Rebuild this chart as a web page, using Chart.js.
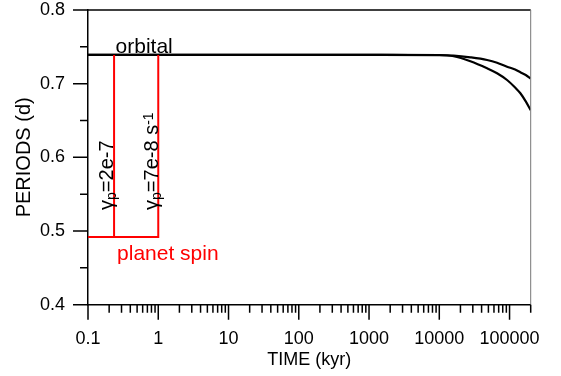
<!DOCTYPE html>
<html>
<head>
<meta charset="utf-8">
<script src="https://cdn.jsdelivr.net/npm/chart.js@4.4.1/dist/chart.umd.min.js"></script>
<style>
  html, body { margin: 0; padding: 0; background: #fff; }
</style>
</head>
<body>
<canvas id="periodChart" width="561" height="376"></canvas>
<script>
// orbital period of the two runs (days) vs time (kyr)
const timeKyr = [0.1, 1000, 10000, 16000, 27700, 47900, 66400, 92100, 120000, 142600, 170000, 200000];
const orbitalPeriodA = [0.739, 0.739, 0.7389, 0.7382, 0.7358, 0.7322, 0.7285, 0.7231, 0.7192, 0.7155, 0.7118, 0.707];
const orbitalPeriodB = [0.739, 0.739, 0.7386, 0.7372, 0.7305, 0.7209, 0.7141, 0.705, 0.6948, 0.687, 0.676, 0.664];

// planet spin: locks onto the orbit at a time that depends on gamma_p
const spinTimeA = [0.1, 0.235, 0.235];
const spinTimeB = [0.1, 1, 1];
const spinPeriod = [0.492, 0.492, 0.739];

const xTickValues = [0.1, 1, 10, 100, 1000, 10000, 100000];
const yTickValues = [0.4, 0.5, 0.6, 0.7, 0.8];

const FONT = "Arial, 'Liberation Sans', sans-serif";

function toPoints(xs, ys) {
  return xs.map((x, i) => ({ x: x, y: ys[i] }));
}

function isMajorX(v) {
  return xTickValues.some(t => Math.abs(t - v) / t < 1e-6);
}

function isMajorY(v) {
  return yTickValues.some(t => Math.abs(t - v) < 1e-6);
}

const frameAndTicks = {
  id: "frameAndTicks",
  afterDraw(chart) {
    const { ctx, chartArea, scales } = chart;
    const { left, right, top, bottom } = chartArea;
    ctx.save();
    ctx.strokeStyle = "#000";
    ctx.lineWidth = 1.5;
    ctx.beginPath();
    ctx.moveTo(left, top);
    ctx.lineTo(right, top);
    ctx.stroke();

    ctx.strokeStyle = "#777";
    ctx.lineWidth = 1;
    ctx.beginPath();
    ctx.moveTo(right, top);
    ctx.lineTo(right, bottom);
    ctx.stroke();

    ctx.strokeStyle = "#000";
    ctx.lineWidth = 1.5;
    ctx.beginPath();
    scales.x.ticks.forEach(t => {
      const px = scales.x.getPixelForValue(t.value);
      const len = isMajorX(t.value) ? 15 : 8;
      ctx.moveTo(px, bottom);
      ctx.lineTo(px, bottom + len);
    });
    scales.y.ticks.forEach(t => {
      const py = scales.y.getPixelForValue(t.value);
      const len = isMajorY(t.value) ? 15 : 8;
      ctx.moveTo(left, py);
      ctx.lineTo(left - len, py);
    });
    ctx.stroke();
    ctx.restore();
  }
};

function drawRich(ctx, parts) {
  let x = 0;
  parts.forEach(p => {
    ctx.font = `${p.size}px ${FONT}`;
    ctx.fillText(p.text, x, p.dy || 0);
    x += ctx.measureText(p.text).width;
  });
}

const labels = {
  id: "labels",
  afterDatasetsDraw(chart) {
    const { ctx, scales } = chart;
    const { x, y } = scales;
    const orbitY = y.getPixelForValue(spinPeriod[2]);
    const spinY = y.getPixelForValue(spinPeriod[0]);
    const lockA = x.getPixelForValue(spinTimeA[1]);
    const lockB = x.getPixelForValue(spinTimeB[1]);

    ctx.save();
    ctx.textBaseline = "alphabetic";
    ctx.textAlign = "left";

    ctx.fillStyle = "#000";
    ctx.font = `21px ${FONT}`;
    ctx.fillText("orbital", lockA + 1.5, orbitY - 2);

    ctx.fillStyle = "#ff0000";
    ctx.fillText("planet spin", lockA + 3, spinY + 23);

    ctx.fillStyle = "#000";
    ctx.save();
    ctx.translate(lockA - 1.5, spinY - 27);
    ctx.rotate(-Math.PI / 2);
    drawRich(ctx, [
      { text: "\u03b3", size: 20 },
      { text: "p", size: 14, dy: 3 },
      { text: "=2e-7", size: 20 }
    ]);
    ctx.restore();

    ctx.save();
    ctx.translate(lockB - 0.5, spinY - 27);
    ctx.rotate(-Math.PI / 2);
    drawRich(ctx, [
      { text: "\u03b3", size: 20 },
      { text: "p", size: 14, dy: 3 },
      { text: "=7e-8 s", size: 20 },
      { text: "-1", size: 14, dy: -5 }
    ]);
    ctx.restore();

    ctx.restore();
  }
};

const ctx = document.getElementById("periodChart").getContext("2d");

new Chart(ctx, {
  type: "scatter",
  data: {
    datasets: [
      {
        label: "spin A",
        data: toPoints(spinTimeA, spinPeriod),
        showLine: true,
        borderColor: "#ff0000",
        borderWidth: 2,
        pointRadius: 0,
        tension: 0
      },
      {
        label: "spin B",
        data: toPoints(spinTimeB, spinPeriod),
        showLine: true,
        borderColor: "#ff0000",
        borderWidth: 2,
        pointRadius: 0,
        tension: 0
      },
      {
        label: "orbital A",
        data: toPoints(timeKyr, orbitalPeriodA),
        showLine: true,
        borderColor: "#000",
        borderWidth: 2.2,
        pointRadius: 0,
        cubicInterpolationMode: "monotone"
      },
      {
        label: "orbital B",
        data: toPoints(timeKyr, orbitalPeriodB),
        showLine: true,
        borderColor: "#000",
        borderWidth: 2.2,
        pointRadius: 0,
        cubicInterpolationMode: "monotone"
      }
    ]
  },
  options: {
    responsive: false,
    animation: false,
    devicePixelRatio: 1,
    layout: { padding: { top: 10, right: 30.3, left: 0, bottom: 0 } },
    plugins: {
      legend: { display: false },
      tooltip: { enabled: false }
    },
    scales: {
      x: {
        type: "logarithmic",
        position: "bottom",
        min: 0.1,
        max: 200000,
        afterBuildTicks: scale => {
          const ticks = [];
          xTickValues.forEach(decade => {
            for (let k = 1; k <= 9; k++) {
              const v = k * decade;
              if (v <= scale.max * 1.000001) ticks.push({ value: v });
            }
          });
          scale.ticks = ticks;
        },
        afterFit: scale => {
          scale.height = 71.3;
          scale.paddingLeft = 0;
          scale.paddingRight = 0;
        },
        ticks: {
          autoSkip: false,
          maxRotation: 0,
          minRotation: 0,
          padding: 9,
          color: "#000",
          font: { family: FONT, size: 18 },
          callback: value => (isMajorX(value) ? String(value) : "")
        },
        grid: {
          display: true,
          drawOnChartArea: false,
          drawTicks: true,
          tickLength: 15,
          tickColor: "transparent"
        },
        border: { display: true, color: "#000", width: 1.5 },
        title: {
          display: true,
          text: "TIME (kyr)",
          color: "#000",
          font: { family: FONT, size: 18 },
          padding: { top: 0, bottom: 5 }
        }
      },
      y: {
        min: 0.4,
        max: 0.8,
        afterFit: scale => {
          scale.width = 88;
          scale.paddingTop = 0;
          scale.paddingBottom = 0;
        },
        ticks: {
          stepSize: 0.05,
          padding: 8,
          color: "#000",
          font: { family: FONT, size: 18 },
          callback: value => (isMajorY(value) ? value.toFixed(1) : "")
        },
        grid: {
          display: true,
          drawOnChartArea: false,
          drawTicks: true,
          tickLength: 15,
          tickColor: "transparent"
        },
        border: { display: true, color: "#000", width: 1.5 },
        title: {
          display: true,
          text: "PERIODS (d)",
          color: "#000",
          font: { family: FONT, size: 20 },
          padding: { top: 12, bottom: 0 }
        }
      }
    }
  },
  plugins: [frameAndTicks, labels]
});
</script>
</body>
</html>
